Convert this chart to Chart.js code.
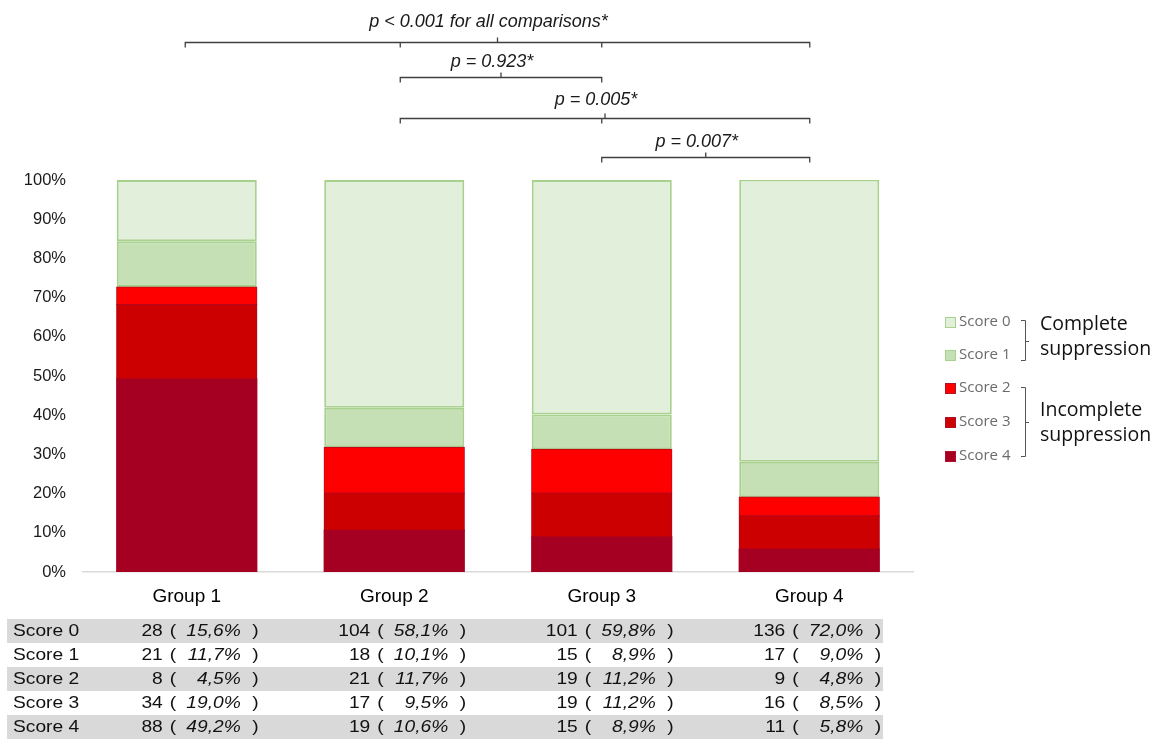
<!DOCTYPE html>
<html>
<head>
<meta charset="utf-8">
<script src="https://cdn.jsdelivr.net/npm/chart.js@4/dist/chart.umd.min.js"></script>
<style>
  html, body { margin: 0; padding: 0; background: #fff; overflow: hidden; }
  #wrap { position: relative; width: 1150px; height: 739px; }
</style>
</head>
<body>
<div id="wrap"><canvas id="c" width="1150" height="739"></canvas></div>
<script>
// ---- data ----
const groups = ['Group 1', 'Group 2', 'Group 3', 'Group 4'];
const scoreNames = ['Score 0', 'Score 1', 'Score 2', 'Score 3', 'Score 4'];

const score0Count = [28, 104, 101, 136];
const score1Count = [21, 18, 15, 17];
const score2Count = [8, 21, 19, 9];
const score3Count = [34, 17, 19, 16];
const score4Count = [88, 19, 15, 11];

const score0Pct = [15.6, 58.1, 59.8, 72.0];
const score1Pct = [11.7, 10.1, 8.9, 9.0];
const score2Pct = [4.5, 11.7, 11.2, 4.8];
const score3Pct = [19.0, 9.5, 11.2, 8.5];
const score4Pct = [49.2, 10.6, 8.9, 5.8];

const yTickValues = [0, 10, 20, 30, 40, 50, 60, 70, 80, 90, 100];

const legendGroupNames = [['Complete', 'suppression'], ['Incomplete', 'suppression']];

const comparisonLabels = ['p < 0.001 for all comparisons*', 'p = 0.923*', 'p = 0.005*', 'p = 0.007*'];
const comparisonFrom = [0, 1, 1, 2];
const comparisonTo = [3, 2, 3, 3];

// ---- styling ----
const fills = ['#E2EFDA', '#C5E0B4', '#FF0000', '#CC0000', '#A50021'];
const edges = ['#A9D18E', '#A9D18E', '#BE0A1E', '#B3061E', '#A50021'];
const widths = [2, 2, 1, 1, 0];
const inflate = ['auto', 'auto', 0.6, 0.6, 0.6];
const counts = [score0Count, score1Count, score2Count, score3Count, score4Count];
const pcts = [score0Pct, score1Pct, score2Pct, score3Pct, score4Pct];

// stacked from the bottom: Score 4 first, Score 0 last
const datasets = [4, 3, 2, 1, 0].map(i => ({
  label: scoreNames[i],
  data: pcts[i],
  backgroundColor: fills[i],
  borderColor: edges[i],
  borderWidth: widths[i],
  borderSkipped: false,
  inflateAmount: inflate[i],
  barPercentage: 0.675,
  categoryPercentage: 1
}));

const fmtPct = v => v.toFixed(1).replace('.', ',') + '%';

// text drawn with a slight horizontal stretch (table font)
function stretchedText(ctx, text, x, y, align, font, sx) {
  ctx.save();
  ctx.translate(x, y);
  ctx.scale(sx, 1);
  ctx.font = font;
  ctx.textAlign = align;
  ctx.textBaseline = 'middle';
  ctx.fillText(text, 0, 0);
  ctx.restore();
}

// significance brackets above the bars
const bracketPlugin = {
  id: 'sigBrackets',
  afterDraw(chart) {
    const ctx = chart.ctx, xs = chart.scales.x;
    const nudge = [-1.5, 6, 0, 0.5];
    const px = i => xs.getPixelForValue(i) + nudge[i];
    const lineY = [42, 77, 118, 157];
    const textY = [22, 62, 100, 142];
    ctx.save();
    ctx.strokeStyle = '#404040';
    ctx.lineWidth = 1.3;
    ctx.fillStyle = '#1a1a1a';
    for (let k = 0; k < comparisonLabels.length; k++) {
      const a = px(comparisonFrom[k]), b = px(comparisonTo[k]);
      const y = lineY[k] + 0.5;
      ctx.beginPath();
      ctx.moveTo(a, y + 5); ctx.lineTo(a, y); ctx.lineTo(b, y); ctx.lineTo(b, y + 5);
      // inner drops for each group in between
      for (let g = comparisonFrom[k] + 1; g < comparisonTo[k]; g++) {
        ctx.moveTo(px(g), y); ctx.lineTo(px(g), y + 5);
      }
      const mid = (a + b) / 2;
      ctx.moveTo(mid, y); ctx.lineTo(mid, y - 5);
      ctx.stroke();
      ctx.font = 'italic 18px "Liberation Sans", Arial, sans-serif';
      ctx.textAlign = 'center';
      ctx.textBaseline = 'middle';
      ctx.fillText(comparisonLabels[k], mid - 9, textY[k]);
    }
    ctx.restore();
  }
};

// legend on the right with grouping braces
const legendPlugin = {
  id: 'sideLegend',
  afterDraw(chart) {
    const ctx = chart.ctx;
    const rowY = [322, 355, 388, 422, 456];
    ctx.save();
    for (let i = 0; i < 5; i++) {
      ctx.fillStyle = fills[i];
      ctx.fillRect(945, rowY[i] - 5, 11, 11);
      ctx.strokeStyle = i < 2 ? '#A9D18E' : '#B0102A';
      ctx.lineWidth = 1;
      ctx.strokeRect(945.5, rowY[i] - 4.5, 10, 10);
      ctx.fillStyle = '#6b6b6b';
      ctx.font = '15px "Open Sans", sans-serif';
      ctx.textAlign = 'left';
      ctx.textBaseline = 'middle';
      ctx.fillText(scoreNames[i], 959, rowY[i]);
    }
    ctx.strokeStyle = '#555';
    ctx.lineWidth = 1;
    const brace = (top, bot) => {
      const x = 1025.5, m = Math.round((top + bot) / 2) + 0.5;
      ctx.beginPath();
      ctx.moveTo(1021, top); ctx.lineTo(x, top); ctx.lineTo(x, bot); ctx.lineTo(1021, bot);
      ctx.moveTo(x, m); ctx.lineTo(1029, m);
      ctx.stroke();
    };
    brace(320.5, 360.5);
    brace(387.5, 456.5);
    ctx.fillStyle = '#111';
    ctx.font = '19.5px "Open Sans", sans-serif';
    ctx.fillText(legendGroupNames[0][0], 1040, 324);
    ctx.fillText(legendGroupNames[0][1], 1040, 349);
    ctx.fillText(legendGroupNames[1][0], 1040, 410);
    ctx.fillText(legendGroupNames[1][1], 1040, 435);
    ctx.restore();
  }
};

// counts / percentages table under the axis
const tablePlugin = {
  id: 'scoreTable',
  afterDraw(chart) {
    const ctx = chart.ctx, xs = chart.scales.x;
    const top0 = 619, rowH = 24, sx = 1.13;
    const font = '17px "Liberation Sans", Arial, sans-serif';
    const ifont = 'italic 17px "Liberation Sans", Arial, sans-serif';
    ctx.save();
    for (let r = 0; r < 5; r++) {
      const top = top0 + r * rowH;
      if (r % 2 === 0) {
        ctx.fillStyle = '#D9D9D9';
        ctx.fillRect(7, top, 876, rowH);
      }
      const cy = top + rowH / 2 + 0.5;
      ctx.fillStyle = '#111';
      stretchedText(ctx, scoreNames[r], 13, cy, 'left', font, sx);
      for (let g = 0; g < groups.length; g++) {
        const c = xs.getPixelForValue(g);
        stretchedText(ctx, String(counts[r][g]), c - 24, cy, 'right', font, sx);
        stretchedText(ctx, '(', c - 17, cy, 'left', font, sx);
        stretchedText(ctx, fmtPct(pcts[r][g]), c + 54, cy, 'right', ifont, sx);
        stretchedText(ctx, ')', c + 72, cy, 'right', font, sx);
      }
    }
    ctx.restore();
  }
};

new Chart(document.getElementById('c'), {
  type: 'bar',
  data: { labels: groups, datasets },
  options: {
    responsive: false,
    animation: false,
    layout: { padding: { top: 180, left: 0, right: 237, bottom: 127 } },
    plugins: { legend: { display: false }, tooltip: { enabled: false } },
    scales: {
      x: {
        stacked: true,
        grid: { display: false, drawTicks: false },
        border: { display: true, color: '#D9D9D9', width: 1.5 },
        ticks: { padding: 13, color: '#000', font: { family: '"Liberation Sans", Arial, sans-serif', size: 19 } },
        afterFit(s) { s.height = 40; }
      },
      y: {
        stacked: true,
        min: 0,
        max: 100,
        afterBuildTicks(s) { s.ticks = yTickValues.map(v => ({ value: v })); },
        grid: { display: false, drawTicks: false },
        border: { display: false },
        ticks: {
          padding: 17,
          color: '#1a1a1a',
          font: { family: '"Liberation Sans", Arial, sans-serif', size: 16.5 },
          callback: v => v + '%'
        },
        afterFit(s) { s.width = 83; }
      }
    }
  },
  plugins: [bracketPlugin, legendPlugin, tablePlugin]
});
</script>
</body>
</html>
